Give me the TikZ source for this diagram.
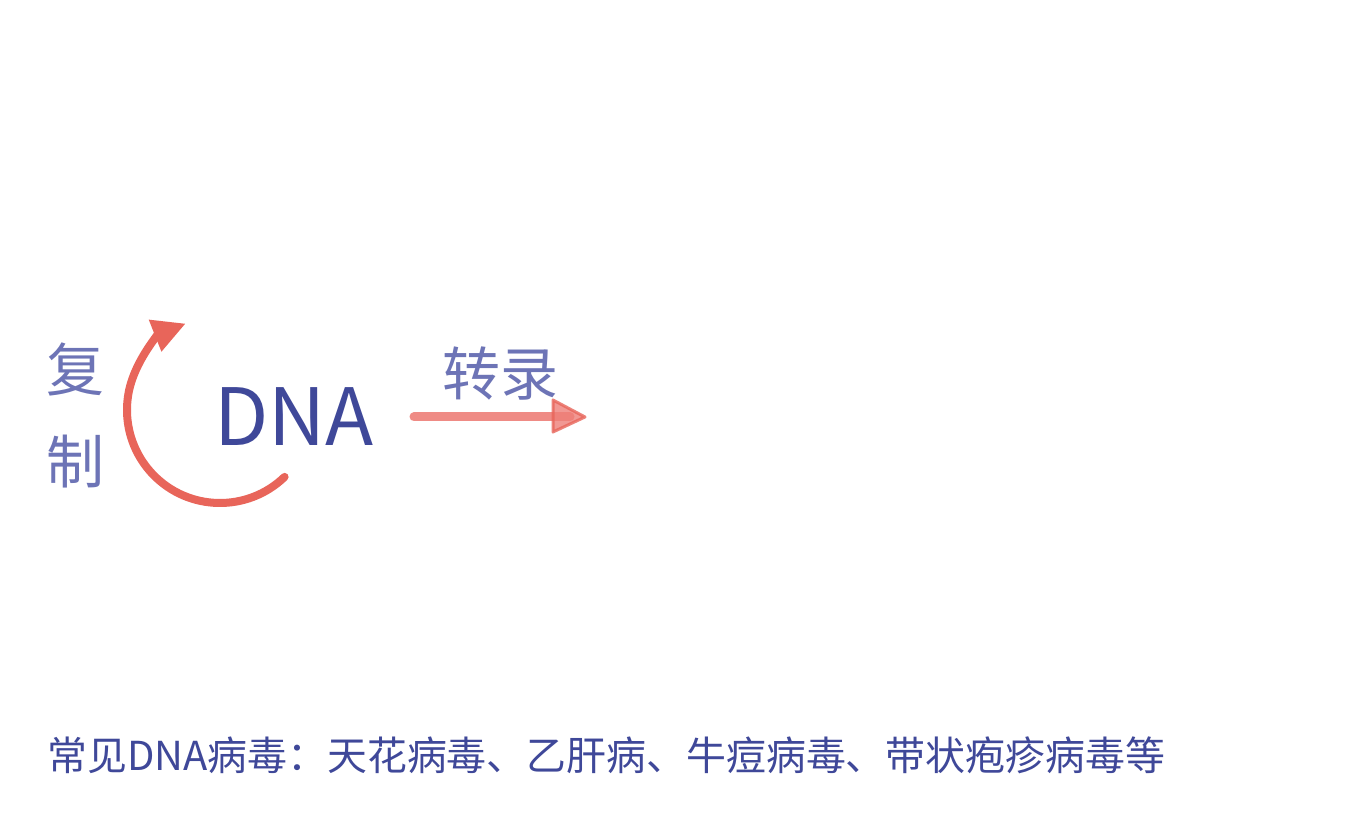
\documentclass[tikz,border=0pt]{standalone}
\usepackage{fontspec}
\usetikzlibrary{arrows.meta}
\setmainfont{Noto Sans CJK SC}
\definecolor{dnablue}{HTML}{3F4899}
\definecolor{lblue}{HTML}{6D74B6}
\definecolor{arred}{HTML}{E8655A}
\definecolor{trred}{HTML}{EE7F78}
\begin{document}
\begin{tikzpicture}[x=1pt,y=1pt,
  lbl/.style={inner sep=0pt, text=lblue, font=\fontsize{58}{60}\selectfont},
  big/.style={inner sep=0pt, text=dnablue, font=\fontsize{79}{81}\selectfont},
  note/.style={inner sep=0pt, anchor=west, text=dnablue, font=\fontsize{39.9}{42}\selectfont}]
\useasboundingbox[fill=white] (0,0) rectangle (1360,824);
\node[big] (dna) at (294,407) {DNA};
\node[lbl] (fu) at (75,455) {复};
\node[lbl] (zhi) at (75,362) {制};
\node[lbl] (zl) at (500,450) {转录};
\node[note] (note) at (47,69) {常见DNA病毒：天花病毒、乙肝病、牛痘病毒、带状疱疹病毒等};
% replication arc
\coordinate (s) at (284.6,347.1);
\draw[arred, line width=8pt, line cap=round, -{Triangle[length=33pt,width=32pt]}]
  (s) arc[start angle=-46, end angle=-248.4, radius=93];
% transcription arrow
\coordinate (t0) at (414,407);
\coordinate (t1) at (585,407);
\coordinate (b1) at (553,424);
\coordinate (b2) at (553,392);
\draw[trred, line width=9pt, line cap=round, opacity=0.9] (t0) -- (570,407);
\filldraw[draw=arred, fill=trred, line width=3pt, line join=round, opacity=0.8] (b1) -- (t1) -- (b2) -- cycle;
\end{tikzpicture}
\end{document}
